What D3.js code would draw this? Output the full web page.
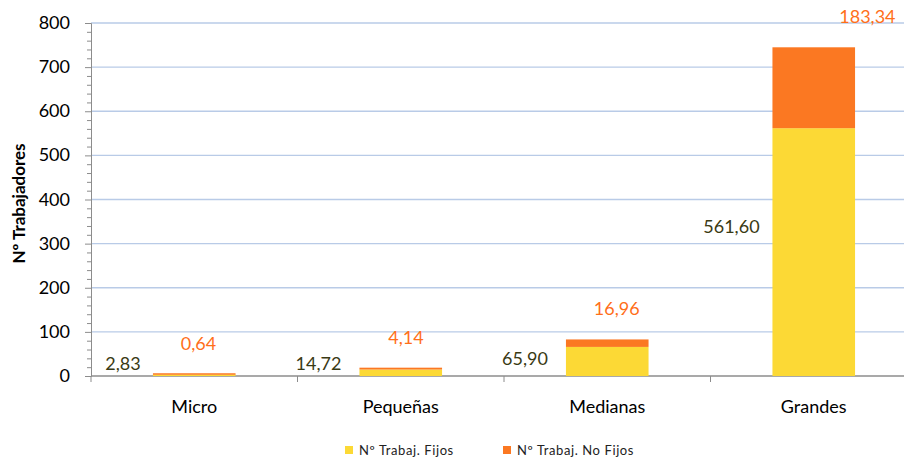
<!DOCTYPE html>
<html>
<head>
<meta charset="utf-8">
<script src="https://cdn.jsdelivr.net/npm/d3@7"></script>
<style>
  body{margin:0;background:#fff;}
  text{font-family:Lato,"Open Sans",sans-serif;}
</style>
</head>
<body>
<svg id="chart" width="904" height="461"></svg>
<script>
// datos
var categorias = ['Micro','Pequeñas','Medianas','Grandes'];
var fijos = [2.83, 14.72, 65.90, 561.60];
var noFijos = [0.64, 4.14, 16.96, 183.34];
var series = ['Nº Trabaj. Fijos','Nº Trabaj. No Fijos'];
var yTicks = [0,100,200,300,400,500,600,700,800];

var colores = ['#FCD935','#FB7822'];
var fmt = function(v){ return d3.format('.2f')(v).replace('.',','); };

var svg = d3.select('#chart');
var mLeft = 91, mTop = 23, mBottom = 376;

var x = d3.scaleBand().domain(categorias).range([mLeft, 917]).paddingInner(0.6).paddingOuter(0.3);
var y = d3.scaleLinear().domain([0,800]).range([mBottom, mTop]);

// rejilla
svg.append('g').selectAll('line').data(yTicks.slice(1)).enter().append('line')
  .attr('x1', mLeft).attr('x2', 904)
  .attr('y1', function(d){ return y(d); }).attr('y2', function(d){ return y(d); })
  .attr('stroke','#B9CBE7').attr('stroke-width',1.3);

// eje y
var yAxis = svg.append('g').attr('transform','translate('+mLeft+',0)')
  .call(d3.axisLeft(y).tickValues(d3.range(0,801,20)).tickSize(4).tickFormat(''));
yAxis.selectAll('.tick line').attr('stroke','#8c8c8c');
yAxis.selectAll('.tick').filter(function(d){ return d % 100 === 0; }).select('line').attr('x2',-6);
yAxis.select('.domain').attr('stroke','#8c8c8c');
svg.append('g').selectAll('text').data(yTicks).enter().append('text')
  .attr('x', 70).attr('y', function(d){ return y(d) + 6; })
  .attr('text-anchor','end').attr('font-size',18).attr('fill','#000')
  .text(function(d){ return d; });

// eje x
var step = x.step();
var bounds = d3.range(categorias.length + 1).map(function(i){ return mLeft + i*step; });
svg.append('line').attr('x1',mLeft).attr('x2',904).attr('y1',mBottom).attr('y2',mBottom)
  .attr('stroke','#8c8c8c').attr('stroke-width',1.3);
svg.append('g').selectAll('line').data(bounds.filter(function(b){ return b < 904; })).enter().append('line')
  .attr('x1',function(d){ return d; }).attr('x2',function(d){ return d; })
  .attr('y1',mBottom).attr('y2',mBottom+6).attr('stroke','#8c8c8c');
svg.append('g').selectAll('text').data(categorias).enter().append('text')
  .attr('x',function(d){ return x(d) + x.bandwidth()/2; }).attr('y',413)
  .attr('text-anchor','middle').attr('font-size',18).attr('fill','#000')
  .text(function(d){ return d; });

// titulo eje
svg.append('text').attr('transform','translate(25,'+(y(400)+4)+') rotate(-90)')
  .attr('text-anchor','middle').attr('font-size',17).attr('font-weight','bold')
  .text('Nº Trabajadores');

// barras apiladas
var filas = categorias.map(function(c,i){ return {cat:c, fijos:fijos[i], noFijos:noFijos[i]}; });
var stack = d3.stack().keys(['fijos','noFijos'])(filas);
svg.append('g').selectAll('g').data(stack).enter().append('g')
  .attr('fill',function(d,i){ return colores[i]; })
  .selectAll('rect').data(function(d){ return d; }).enter().append('rect')
  .attr('x',function(d){ return x(d.data.cat); })
  .attr('width',x.bandwidth())
  .attr('y',function(d){ return Math.min(y(d[1]), y(d[0]) - 1.5); })
  .attr('height',function(d){ return Math.max(y(d[0]) - y(d[1]), 1.5); });

// etiquetas fijos
svg.append('g').selectAll('text').data(filas).enter().append('text')
  .attr('x',function(d){ return Math.max(x(d.cat) - 41, mLeft + 32); })
  .attr('y',function(d){ return Math.min(y(d.fijos*0.6), mBottom-12) + 6; })
  .attr('text-anchor','middle').attr('font-size',18).attr('fill','#3A3A14')
  .text(function(d){ return fmt(d.fijos); });

// etiquetas no fijos
svg.append('g').selectAll('text').data(filas).enter().append('text')
  .attr('x',function(d){ return x(d.cat) + x.bandwidth()/2 + 4 + (d.fijos + d.noFijos)/15; })
  .attr('y',function(d){ return y(d.fijos + d.noFijos) - 24; })
  .attr('text-anchor','middle').attr('font-size',18).attr('fill','#FF6F1A')
  .text(function(d){ return fmt(d.noFijos); });

// leyenda
var ley = svg.append('g').selectAll('g').data(series).enter().append('g')
  .attr('transform',function(d,i){ return 'translate('+(345 + i*158)+',446)'; });
ley.append('rect').attr('width',8).attr('height',8).attr('fill',function(d,i){ return colores[i]; });
ley.append('text').attr('x',14).attr('y',9).attr('font-size',13).attr('letter-spacing',0.6)
  .attr('fill','#222').text(function(d){ return d; });
</script>
</body>
</html>
